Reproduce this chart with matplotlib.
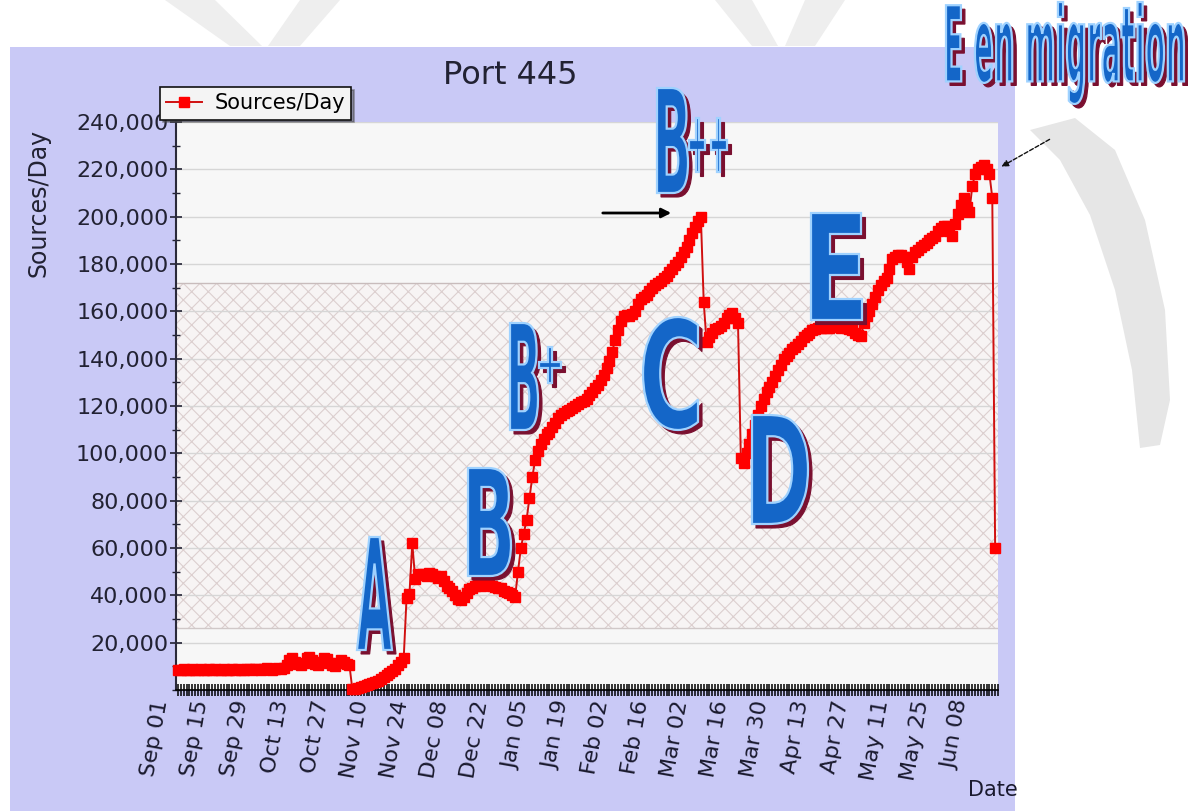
import numpy as np
import pandas as pd
import matplotlib
matplotlib.use("Agg")
import matplotlib.pyplot as plt
import matplotlib.dates as mdates
from matplotlib.ticker import FuncFormatter, MultipleLocator
from matplotlib.textpath import TextPath
from matplotlib.patches import PathPatch, Rectangle, Polygon, FancyArrowPatch
from matplotlib.font_manager import FontProperties
from matplotlib.transforms import Affine2D, ScaledTranslation

# ---------------- data ----------------
start_date = "2004-09-01"
series_name = "Sources/Day"
sources_per_day = [
    8600, 8400, 8800, 8500, 8300, 8700, 8600, 8400, 8900, 8500,
    8300, 8700, 8600, 8800, 8400, 8500, 8900, 8600, 8300, 8700,
    8500, 8800, 8600, 8400, 8900, 8700, 8500, 8800, 9000, 8600,
    8700, 9100, 8800, 8600, 9000, 9200, 8900, 9300, 10500, 12500,
    13500, 12000, 11000, 10500, 11500, 13500, 14000, 12500, 11000, 10500,
    12000, 13500, 13000, 11500, 10500, 10000, 11500, 12500, 12000, 11000,
    10500, 500, 300, 800, 1200, 1500, 2000, 2400, 3000, 3300,
    4000, 4800, 5500, 6500, 7200, 8000, 9000, 10500, 12000, 13500,
    39000, 40500, 62000, 47000, 49000, 48500, 49000, 48000, 49500, 49000,
    48000, 47500, 48000, 46000, 44000, 43000, 42000, 40000, 38500, 38000,
    39500, 41000, 42500, 43000, 44000, 44500, 44000, 45000, 45000, 44500,
    44000, 43500, 43000, 43000, 42000, 41500, 41000, 40000, 39500, 50000,
    60000, 66000, 72000, 81000, 90000, 97000, 101000, 104000, 106000, 108000,
    109000, 111000, 113000, 115000, 116000, 117000, 118000, 118500, 119000, 120000,
    121000, 121500, 122000, 123000, 124500, 126000, 127500, 129000, 131000, 133000,
    136000, 139000, 143000, 148000, 152000, 156000, 158000, 158500, 158000, 159000,
    160000, 163000, 165000, 166000, 167000, 168500, 170000, 171000, 172000, 173000,
    174000, 175000, 176500, 178000, 179500, 181000, 183000, 185000, 187000, 190000,
    193000, 195500, 198000, 200000, 164000, 147000, 149000, 151000, 152500, 153000,
    154000, 155000, 157000, 158500, 159500, 157000, 155000, 98000, 96000, 100000,
    104000, 108000, 112000, 116000, 120000, 123000, 126000, 128000, 130000, 132500,
    135000, 137500, 140000, 141000, 142500, 144000, 145000, 146000, 147500, 149000,
    150000, 151000, 152000, 152500, 153000, 153000, 153500, 153000, 153000, 154000,
    154000, 153500, 153000, 153500, 153000, 152500, 152000, 151000, 150000, 149500,
    155000, 158000, 160000, 163000, 166000, 169000, 171000, 173000, 174000, 178000,
    182000, 183000, 184000, 184000, 183000, 181000, 178000, 183000, 185000, 186000,
    187000, 188000, 189000, 190000, 191000, 192000, 194000, 195000, 196000, 196000,
    194000, 192000, 197000, 201000, 205000, 208000, 204000, 202000, 213000, 218000,
    220000, 221000, 222000, 220000, 218000, 208000, 60000,
]
y_ticks = [20000, 40000, 60000, 80000, 100000, 120000, 140000, 160000,
           180000, 200000, 220000, 240000]
n_major_ticks = 21
title_text = "Port 445"
x_label = "Date"
wordart_texts = ["A", "B", "B", "+", "B", "++", "C", "D", "E", "E en migration"]

# ---------------- layout ----------------
plt.rcParams["hatch.linewidth"] = 0.8
W, H, DPI = 1188, 811, 100
fig = plt.figure(figsize=(W / DPI, H / DPI), dpi=DPI)
fig.patch.set_facecolor("white")
PX = fig.dpi_scale_trans


def pxt(x, y):
    """image pixel (top-left origin) -> inches for dpi_scale_trans"""
    return x / DPI, (H - y) / DPI


# background slide decorations (faint watermark shapes)
for pts in [
    [(165, 0), (215, 0), (262, 46), (230, 46)],
    [(300, 0), (340, 0), (300, 46), (268, 46)],
    [(715, 0), (752, 0), (778, 46), (752, 46)],
    [(805, 0), (845, 0), (815, 46), (785, 46)],
]:
    fig.add_artist(Polygon([pxt(*p) for p in pts], closed=True, transform=PX,
                           facecolor="#eeeeee", edgecolor="none", zorder=-3))
swoosh = [(1075, 118), (1115, 150), (1145, 220), (1165, 310), (1170, 400),
          (1160, 445), (1140, 448), (1132, 370), (1115, 290), (1090, 215),
          (1060, 160), (1030, 130)]
fig.add_artist(Polygon([pxt(*p) for p in swoosh], closed=True, transform=PX,
                       facecolor="#e6e6e6", edgecolor="none", zorder=-3))

# lavender chart panel
fig.add_artist(Rectangle(pxt(10, 811), 1005 / DPI, (811 - 47) / DPI, transform=PX,
                         facecolor="#c9c9f6", edgecolor="none", zorder=-2))

ax = fig.add_axes([176 / W, 1 - 690 / H, (998 - 176) / W, (690 - 122) / H])
ax.set_facecolor("#f7f7f7")

dates = pd.date_range(start_date, periods=len(sources_per_day), freq="D")
x0 = mdates.date2num(dates[0]) - 0.7
ax.set_xlim(x0, x0 + 287.7)
ax.set_ylim(0, 240000)

# watermark hatch band and grid
ax.axhspan(26000, 172000, facecolor="#f7f4f4", edgecolor="#dccfcf",
           hatch="xx", lw=0, zorder=0.5)
ax.axhline(172000, color="#c8bcbc", lw=1, zorder=0.6)
ax.axhline(26000, color="#d0c8c8", lw=1, zorder=0.6)
ax.set_axisbelow("line")
ax.yaxis.grid(True, color="#d6d6d6", lw=1)

ax.plot(dates, sources_per_day, color="#d01010", lw=1.4, marker="s",
        markersize=6.5, markerfacecolor="#ff0000", markeredgecolor="#ff0000",
        label=series_name, clip_on=False, zorder=3)

# axes style
for s in ["top", "right"]:
    ax.spines[s].set_visible(False)
ax.spines["left"].set_color("#2a2a3a")
ax.spines["left"].set_linewidth(1.5)
ax.spines["bottom"].set_color("black")
ax.spines["bottom"].set_linewidth(1.2)

ax.set_yticks(y_ticks)
ax.yaxis.set_minor_locator(MultipleLocator(10000))
ax.yaxis.set_major_formatter(FuncFormatter(lambda v, p: f"{int(v):,}"))
ax.tick_params(axis="y", which="major", direction="inout", length=9, width=1.2,
               colors="#222233", labelsize=16, pad=1)
ax.tick_params(axis="y", which="minor", direction="inout", length=6, width=1.0,
               color="#222233")

major_dates = pd.date_range(start_date, periods=n_major_ticks, freq="14D")
ax.set_xticks(major_dates)
ax.xaxis.set_major_formatter(mdates.DateFormatter("%b %d"))
ax.xaxis.set_minor_locator(mdates.DayLocator())
ax.tick_params(axis="x", which="both", direction="inout", length=9, width=1.1,
               color="black", labelsize=16, labelcolor="#1a1a2e", pad=3)
shift = ScaledTranslation(-16 / DPI, 0, PX)
for lbl in ax.get_xticklabels():
    lbl.set_rotation(80)
    lbl.set_rotation_mode("anchor")
    lbl.set_ha("right")
    lbl.set_va("center")
    lbl.set_transform(lbl.get_transform() + shift)

ax.set_ylabel(series_name, fontsize=17, color="#222233")
ax.yaxis.set_label_coords(-0.153, 0.857)
ax.set_xlabel(x_label, fontsize=15, color="#1a1a2e")
ax.xaxis.set_label_coords(0.994, -0.158)

fig.text(510 / W, 1 - 76 / H, title_text, ha="center", va="center",
         fontsize=23, color="#222233")

leg = ax.legend(loc="upper left", bbox_to_anchor=(160 / W, 1 - 87 / H),
                bbox_transform=fig.transFigure, fontsize=15, frameon=True,
                fancybox=False, shadow=True, edgecolor="#111111",
                facecolor="#f4f4f4", framealpha=1, borderpad=0.3,
                handlelength=1.7, handletextpad=0.6, borderaxespad=0)
leg.get_frame().set_linewidth(1.2)

# ---------------- word-art annotations ----------------
fp = FontProperties(family="DejaVu Sans", weight="bold")
boxes = [
    (357, 537, 392, 650),
    (468, 468, 511, 576),
    (510, 323, 538, 430),
    (539, 347, 561, 383),
    (657, 88, 688, 193),
    (689, 118, 727, 172),
    (643, 317, 698, 430),
    (752, 415, 808, 524),
    (811, 213, 862, 320),
    (946, 2, 1184, 104),
]


def wordart(s, bx):
    bx0, by0, bx1, by1 = bx
    tp = TextPath((0, 0), s, size=100, prop=fp)
    ext = tp.get_extents()
    sx = (bx1 - bx0) / ext.width
    sy = (by1 - by0) / ext.height
    layers = [
        (4, -4, "#7a1030", "#7a1030", 0.8, 5),
        (0, 0, "#1466c8", "#9fd2ff", 1.6, 6),
    ]
    for dx, dy, fc, ec, lw, z in layers:
        tr = (Affine2D().translate(-ext.x0, -ext.y0).scale(sx, sy)
              .translate(bx0 + dx, H - by1 + dy).scale(1 / DPI) + PX)
        fig.add_artist(PathPatch(tp, transform=tr, facecolor=fc, edgecolor=ec,
                                 lw=lw, zorder=z))


for s, bx in zip(wordart_texts, boxes):
    wordart(s, bx)

fig.add_artist(FancyArrowPatch(pxt(600, 213), pxt(674, 213), transform=PX,
                               arrowstyle="-|>", mutation_scale=14, lw=2,
                               color="black", zorder=7))
fig.add_artist(FancyArrowPatch(pxt(1052, 138), pxt(999, 168), transform=PX,
                               arrowstyle="-|>", mutation_scale=10, lw=1,
                               linestyle=(0, (3, 1.5)), color="#111111",
                               zorder=7))

fig.savefig("out.png", dpi=DPI)
